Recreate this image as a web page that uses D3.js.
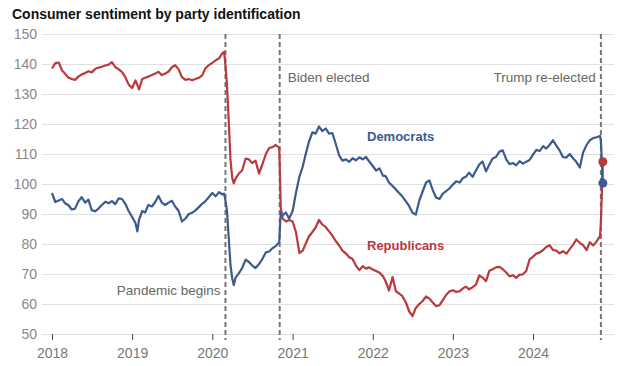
<!DOCTYPE html>
<html>
<head>
<meta charset="utf-8">
<script src="https://cdn.jsdelivr.net/npm/d3@7"></script>
<style>
  body { margin: 0; background: #fff; }
  svg { font-family: "Liberation Sans", Arial, sans-serif; }
</style>
</head>
<body>
<div id="container"></div>
<script>
const WIDTH = 617;
const HEIGHT = 366;
const GRID_LEFT = 42;
const GRID_RIGHT = 614;
const PLOT_TOP = 34;
const PLOT_BOTTOM = 334;

const RED = "#b83a3c";
const BLUE = "#3c5a8e";

// semi-monthly readings, Jan 2018 - Nov 2024
const dates = [
  "2018-01-01","2018-01-16","2018-02-01","2018-02-16","2018-03-01","2018-03-16","2018-04-01","2018-04-16",
  "2018-05-01","2018-05-16","2018-06-01","2018-06-16","2018-07-01","2018-07-16","2018-08-01","2018-08-16",
  "2018-09-01","2018-09-16","2018-10-01","2018-10-16","2018-11-01","2018-11-16","2018-12-01","2018-12-16",
  "2019-01-01","2019-01-16","2019-01-25","2019-02-01","2019-02-16","2019-03-01","2019-03-16","2019-04-01",
  "2019-04-16","2019-05-01","2019-05-16","2019-06-01","2019-06-16","2019-07-01","2019-07-16","2019-08-01",
  "2019-08-16","2019-09-01","2019-09-16","2019-10-01","2019-10-16","2019-11-01","2019-11-16","2019-12-01","2019-12-16",
  "2020-01-01","2020-01-16","2020-02-01","2020-02-16","2020-02-24","2020-03-01","2020-03-08","2020-03-16",
  "2020-03-24","2020-04-01","2020-04-08","2020-04-16","2020-05-01","2020-05-16","2020-06-01","2020-06-16",
  "2020-07-01","2020-07-16","2020-08-01","2020-08-16","2020-09-01","2020-09-16","2020-10-01","2020-10-16",
  "2020-11-01","2020-11-04","2020-11-08","2020-11-16","2020-12-01","2020-12-16",
  "2021-01-01","2021-01-16","2021-02-01","2021-02-16","2021-03-01","2021-03-16","2021-04-01","2021-04-16",
  "2021-05-01","2021-05-16","2021-06-01","2021-06-16","2021-07-01","2021-07-16","2021-08-01","2021-08-16",
  "2021-09-01","2021-09-16","2021-10-01","2021-10-16","2021-11-01","2021-11-16","2021-12-01","2021-12-16",
  "2022-01-01","2022-01-16","2022-02-01","2022-02-16","2022-03-01","2022-03-16","2022-04-01","2022-04-16",
  "2022-05-01","2022-05-16","2022-06-01","2022-06-16","2022-07-01","2022-07-16","2022-08-01","2022-08-16",
  "2022-09-01","2022-09-16","2022-10-01","2022-10-16","2022-11-01","2022-11-16","2022-12-01","2022-12-16",
  "2023-01-01","2023-01-16","2023-02-01","2023-02-16","2023-03-01","2023-03-16","2023-04-01","2023-04-16",
  "2023-05-01","2023-05-16","2023-06-01","2023-06-16","2023-07-01","2023-07-16","2023-08-01","2023-08-16",
  "2023-09-01","2023-09-16","2023-10-01","2023-10-16","2023-11-01","2023-11-16","2023-12-01","2023-12-16",
  "2024-01-01","2024-01-16","2024-02-01","2024-02-16","2024-03-01","2024-03-16","2024-04-01","2024-04-16",
  "2024-05-01","2024-05-16","2024-06-01","2024-06-16","2024-07-01","2024-07-16","2024-08-01","2024-08-16",
  "2024-09-01","2024-09-16","2024-10-01","2024-10-16","2024-11-01","2024-11-05","2024-11-14"
];

const democrats = [
  97, 94, 94.5, 95, 93.6, 93, 91.5, 91.8, 94.2, 95.6, 93.8, 94.8, 91.3, 90.9, 91.8, 93, 94.1, 93.6, 94.3, 93.3, 95.2, 95, 93.4, 91,
  89, 87, 84.2, 88, 91, 90.5, 93, 92.5, 94, 96, 93.8, 93, 93.8, 94.4, 92.5, 91, 87.5, 88.5, 90, 90.4, 91.2, 92.3, 93.4, 94.3, 95.6,
  97, 95.9, 97.3, 96.5, 96.8, 94.5, 91, 82, 73, 68.5, 66.3, 68.8, 70.2, 72, 74.8, 74, 72.8, 72, 73.3, 75, 77.2, 77.5, 78.6, 79.3,
  80.6, 85, 90.5, 89.5, 90.5, 88.5,
  91, 97, 102.5, 105.8, 109.8, 114, 117.2, 116.8, 119.2, 117.6, 118.5, 116.8, 117, 113.5, 109.5, 107.8, 108.2, 107.4, 108.6, 107.9, 108.9, 108.2, 109, 107.5,
  106, 104.5, 105.2, 102.8, 102.6, 100.5, 99.3, 98.2, 97, 95.8, 94.2, 92.6, 90.4, 89.8, 94.5, 97.5, 100.5, 101.2, 98, 95.5, 95, 96.8, 97.6, 98.5,
  99.8, 100.9, 100.5, 102, 102.4, 103.8, 102.4, 104.5, 106.5, 107.5, 104.2, 106.5, 108.5, 109, 110.8, 111.2, 108.2, 106.6, 107, 106.2, 107.6, 106.8, 107.4, 108,
  109.8, 111.4, 111, 112.6, 111.8, 113, 114.6, 112.8, 111.2, 109, 108.8, 110, 108.6, 107.4, 105.5, 110.5, 113, 114.6, 115.3, 115.6, 116, 114.5, 100.3
];

const republicans = [
  138.5, 140.3, 140.5, 137.8, 136.8, 135.5, 135, 134.7, 135.8, 136.5, 137, 137.6, 137.2, 138.3, 138.8, 139.1, 139.5, 139.8, 140.6, 139, 138.2, 137.3, 135.6, 133.2,
  132, 134.5, 133, 131.5, 135, 135.4, 135.8, 136.3, 136.8, 137.4, 136.3, 136.8, 137.5, 138.9, 139.6, 138.2, 135.6, 134.7, 135, 134.6, 135, 135.4, 136.2, 138.6, 139.6,
  140.4, 141.2, 141.9, 143.6, 144, 139.5, 133, 121, 108, 102, 100.2, 101.8, 103.5, 104.5, 108.5, 108.2, 107, 107.8, 103.5, 106.5, 110, 112, 112.3, 113,
  112, 104, 92, 88.5, 87.5, 88,
  87.5, 84, 77, 77.8, 80, 82.5, 84, 85.5, 88, 86.5, 85.6, 84.2, 82.8, 81, 79.5, 77.8, 76.8, 75.6, 75, 72.8, 71.3, 72.6, 71.8, 72.2,
  71.5, 71, 70.4, 69.3, 67.5, 64.5, 69, 64.3, 63.5, 62.6, 60.5, 57.5, 56, 58.7, 60, 61, 62.5, 61.8, 60.5, 59.3, 59.6, 61.3, 63, 64.2,
  64.6, 64, 64.3, 65.2, 65.8, 64.9, 65.6, 66.5, 69.5, 68.8, 67.6, 71.1, 71.6, 72.2, 72.4, 71.6, 70.5, 69.2, 69.6, 68.7, 69.8, 69.9, 71, 74.8,
  75.8, 76.8, 77.2, 78, 79, 79.6, 78, 77.8, 76.9, 77.6, 76.8, 78.3, 79.7, 81.5, 80.4, 79.6, 78, 80.6, 79.5, 80.8, 82.6, 87, 107.4
];

const yTicks = [50, 60, 70, 80, 90, 100, 110, 120, 130, 140, 150];
const xTickYears = [2018, 2019, 2020, 2021, 2022, 2023, 2024];

const eventDates = ["2020-03-01", "2020-11-03", "2024-11-05"];
const eventLabels = ["Pandemic begins", "Biden elected", "Trump re-elected"];

const parse = d3.timeParse("%Y-%m-%d");
const demSeries = dates.map((d, i) => ({ date: parse(d), v: democrats[i] }));
const repSeries = dates.map((d, i) => ({ date: parse(d), v: republicans[i] }));

const svg = d3
  .select("div#container")
  .append("svg")
  .attr("width", WIDTH)
  .attr("height", HEIGHT);

const xScale = d3
  .scaleTime()
  .domain([new Date(2018, 0, 1), new Date(2025, 0, 1)])
  .range([52, 613.4]);
const yScale = d3.scaleLinear().domain([50, 150]).range([PLOT_BOTTOM, PLOT_TOP]);

svg
  .append("text")
  .attr("x", 12)
  .attr("y", 19)
  .attr("font-size", 14)
  .attr("font-weight", "bold")
  .attr("fill", "#121212")
  .text("Consumer sentiment by party identification");

// gridlines + y labels
const yAxis = svg
  .append("g")
  .attr("transform", `translate(${GRID_LEFT}, 0)`)
  .call(
    d3.axisLeft(yScale).tickValues(yTicks).tickSize(-(GRID_RIGHT - GRID_LEFT)).tickPadding(5)
  );
yAxis.select(".domain").remove();
yAxis.selectAll(".tick line").attr("stroke", "#e1e1e1");
yAxis
  .selectAll(".tick text")
  .attr("fill", "#888")
  .attr("font-size", 14)
  .attr("font-family", "Liberation Sans, Arial, sans-serif");

const xAxis = svg
  .append("g")
  .attr("transform", `translate(0, ${PLOT_BOTTOM})`)
  .call(
    d3.axisBottom(xScale)
      .tickValues(xTickYears.map((y) => new Date(y, 0, 1)))
      .tickFormat(d3.timeFormat("%Y"))
      .tickSize(6)
      .tickPadding(8)
  );
xAxis.select(".domain").remove();
xAxis.selectAll(".tick line").attr("stroke", "#444");
xAxis
  .selectAll(".tick text")
  .attr("fill", "#777")
  .attr("font-size", 14)
  .attr("font-family", "Liberation Sans, Arial, sans-serif");

// event markers
svg
  .selectAll("line.event")
  .data(eventDates)
  .enter()
  .append("line")
  .attr("class", "event")
  .attr("x1", (d) => xScale(parse(d)))
  .attr("x2", (d) => xScale(parse(d)))
  .attr("y1", PLOT_TOP)
  .attr("y2", PLOT_BOTTOM + 6)
  .attr("stroke", "#777")
  .attr("stroke-width", 2)
  .attr("stroke-dasharray", "5,3");

const labelPos = [
  { anchor: "end", dx: -5, y: 295 },
  { anchor: "start", dx: 8, y: 82 },
  { anchor: "end", dx: -5, y: 82 },
];
svg
  .selectAll("text.event")
  .data(eventDates)
  .enter()
  .append("text")
  .attr("class", "event")
  .attr("x", (d, i) => xScale(parse(d)) + labelPos[i].dx)
  .attr("y", (d, i) => labelPos[i].y)
  .attr("text-anchor", (d, i) => labelPos[i].anchor)
  .attr("font-size", 13.5)
  .attr("fill", "#666")
  .text((d, i) => eventLabels[i]);

const line = d3
  .line()
  .x((d) => xScale(d.date))
  .y((d) => yScale(d.v));

svg
  .append("path")
  .datum(repSeries)
  .attr("d", line)
  .attr("fill", "none")
  .attr("stroke", RED)
  .attr("stroke-width", 2.2)
  .attr("stroke-linejoin", "round");

svg
  .append("path")
  .datum(demSeries)
  .attr("d", line)
  .attr("fill", "none")
  .attr("stroke", BLUE)
  .attr("stroke-width", 2.2)
  .attr("stroke-linejoin", "round");

const lastRep = repSeries[repSeries.length - 1];
const lastDem = demSeries[demSeries.length - 1];
svg
  .selectAll("circle.end")
  .data([
    { d: lastRep, c: RED },
    { d: lastDem, c: BLUE },
  ])
  .enter()
  .append("circle")
  .attr("class", "end")
  .attr("cx", (e) => xScale(e.d.date))
  .attr("cy", (e) => yScale(e.d.v))
  .attr("r", 4.5)
  .attr("fill", (e) => e.c);

svg
  .append("text")
  .attr("x", 367)
  .attr("y", 141)
  .attr("font-size", 13)
  .attr("font-weight", "bold")
  .attr("fill", BLUE)
  .text("Democrats");

svg
  .append("text")
  .attr("x", 367)
  .attr("y", 250)
  .attr("font-size", 13)
  .attr("font-weight", "bold")
  .attr("fill", RED)
  .text("Republicans");
</script>
</body>
</html>
